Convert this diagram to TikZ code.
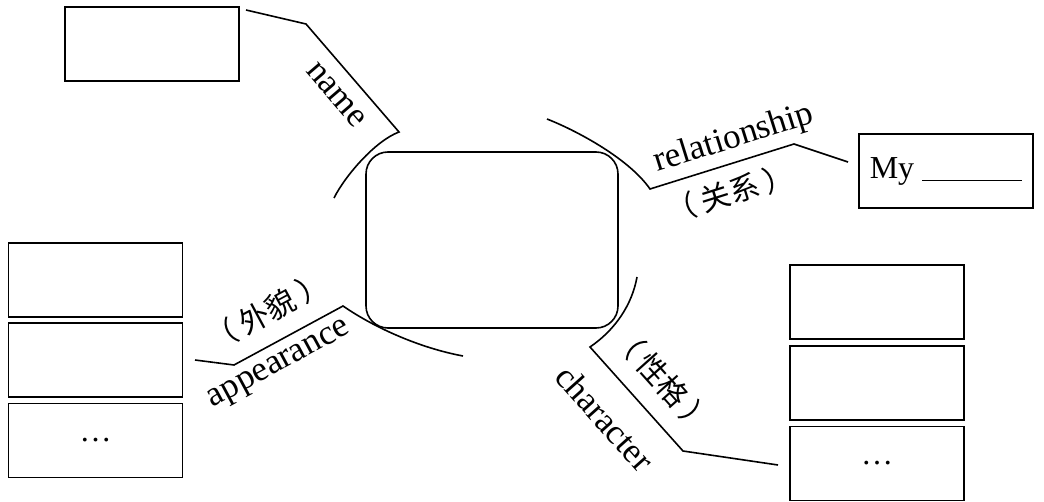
\documentclass[tikz,border=0pt]{standalone}
\usepackage{fontspec}
\setmainfont{Liberation Serif}
\newfontfamily\cjk{Noto Sans CJK SC}
\begin{document}
\begin{tikzpicture}[x=1pt,y=-1pt,
  ln/.style={line width=1.6pt, line join=miter},
  box/.style={draw, line width=1.6pt, minimum width=174pt, minimum height=74pt, inner sep=0pt},
  txt/.style={font=\fontsize{32}{38}\selectfont, inner sep=0pt},
  lbl/.style={font=\fontsize{35}{40}\selectfont, inner sep=0pt},
  zh/.style={font=\cjk\fontsize{30}{34}\selectfont, inner sep=0pt}]
\useasboundingbox (0,0) rectangle (1044,502);
% boxes
\node[box] (nb) at (152,44) {};
\node[box, txt] (rb) at (946,171) {My \rule[-3pt]{100pt}{1.2pt}};
\node[box] (l1) at (95.5,280) {};
\node[box] (l2) at (95.5,360) {};
\node[box, txt] (l3) at (95.5,440.5) {…};
\node[box] (r1) at (877,302) {};
\node[box] (r2) at (877,383) {};
\node[box, txt] (r3) at (877,463.5) {…};
\node[draw, line width=1.6pt, rounded corners=22pt, minimum width=252pt, minimum height=176pt] (c) at (492,240) {};
% connector points
\coordinate (n0) at (246,10);
\coordinate (n1) at (306,24);
\coordinate (n2) at (399,132);
\coordinate (n3) at (334,198);
\coordinate (q0) at (547,119);
\coordinate (q1) at (650,189);
\coordinate (q2) at (794,144);
\coordinate (q3) at (848,162);
\coordinate (a0) at (195,360);
\coordinate (a1) at (234,365);
\coordinate (a2) at (343,306);
\coordinate (a3) at (463,356);
\coordinate (h0) at (637,277);
\coordinate (h1) at (590,347);
\coordinate (h2) at (683,451);
\coordinate (h3) at (778,465);
% connectors
\draw[ln] (n0) -- (n1) -- (n2) .. controls (375,141) and (345,176) .. (n3);
\draw[ln] (q0) .. controls (580,132) and (630,160) .. (q1) -- (q2) -- (q3);
\draw[ln] (a0) -- (a1) -- (a2) .. controls (375,328) and (420,348) .. (a3);
\draw[ln] (h0) .. controls (632,305) and (615,330) .. (h1) -- (h2) -- (h3);
% labels
\node[lbl, rotate=-49.3] (tname) at (336,95) {name};
\node[lbl, rotate=17.4] (trel) at (734,139) {relationship};
\node[zh, rotate=17.4] (zrel) at (730,193) {（\hspace{0.2em}关系\hspace{0.2em}）};
\node[lbl, rotate=28.4] (tapp) at (280,366) {appearance};
\node[zh, rotate=28.4] (zapp) at (267,311) {（\hspace{0.2em}外貌\hspace{0.2em}）};
\node[lbl, rotate=-48.2] (tchar) at (605,418) {character};
\node[zh, rotate=-48.2] (zchar) at (663,380) {（\hspace{0.2em}性格\hspace{0.2em}）};
\end{tikzpicture}
\end{document}
